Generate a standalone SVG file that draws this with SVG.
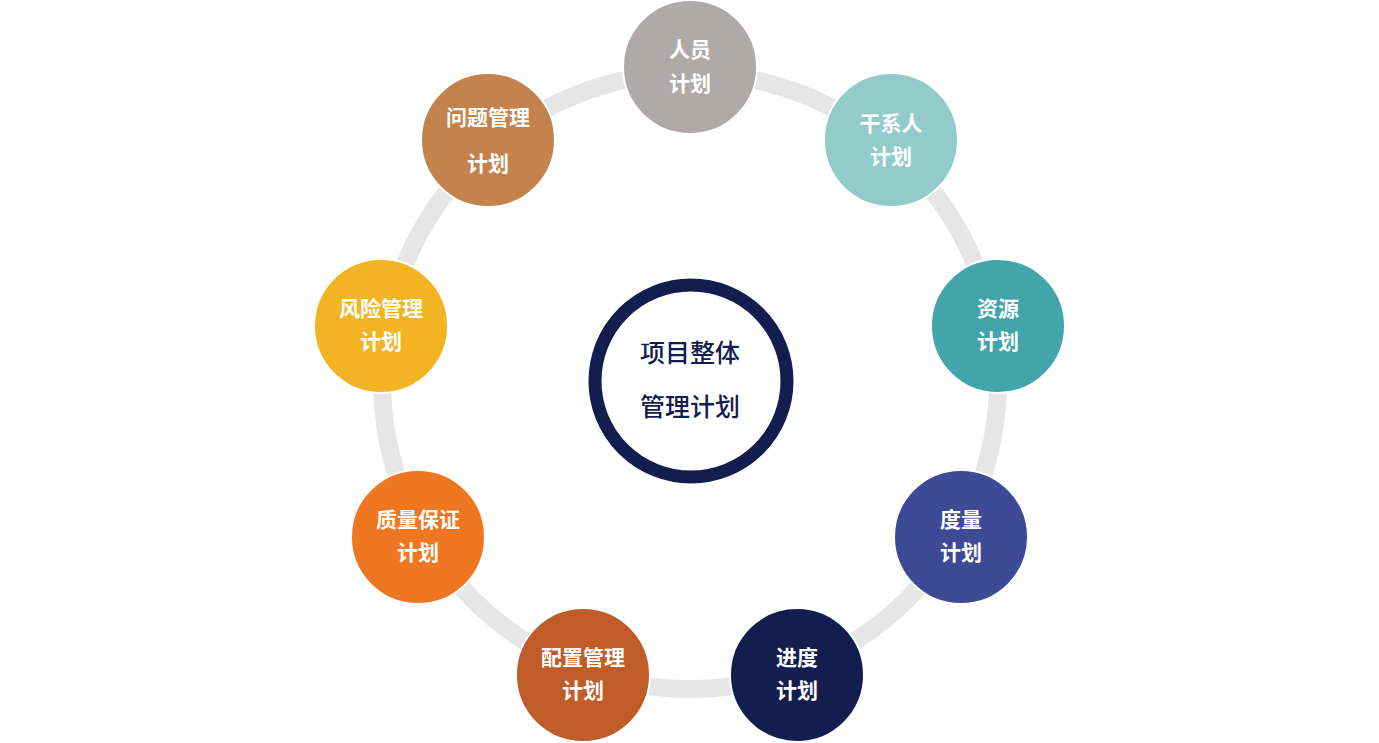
<svg xmlns="http://www.w3.org/2000/svg" width="1379" height="743" viewBox="0 0 1379 743">
<style>
.node circle{stroke:#ffffff;stroke-width:2}
.lbl{font-family:"Noto Sans CJK SC","Noto Sans",sans-serif;font-size:21px;font-weight:bold;fill:#ffffff;text-anchor:middle}
.ctr{font-family:"Noto Sans CJK SC","Noto Sans",sans-serif;font-size:25px;font-weight:500;fill:#141d4f;text-anchor:middle}
</style>
<rect width="1379" height="743" fill="#ffffff"/>
<g id="connectors">
<circle cx="690" cy="381" r="308" fill="none" stroke="#e6e6e6" stroke-width="18"/>
</g>
<g id="center" class="centernode">
<circle cx="691" cy="381" r="96" fill="#ffffff" stroke="#141d4f" stroke-width="13"/>
<text class="ctr" x="690" y="362">项目整体</text>
<text class="ctr" x="690" y="416">管理计划</text>
</g>
<g id="n-renyuan" class="node">
<circle cx="690" cy="67" r="67" fill="#aeaaa9"/>
<text class="lbl" x="690" y="57">人员</text>
<text class="lbl" x="690" y="91">计划</text>
</g>
<g id="n-ganxiren" class="node">
<circle cx="891" cy="140" r="67" fill="#92cbca"/>
<text class="lbl" x="891" y="131">干系人</text>
<text class="lbl" x="891" y="164">计划</text>
</g>
<g id="n-ziyuan" class="node">
<circle cx="998" cy="326" r="67" fill="#42a5ac"/>
<text class="lbl" x="998" y="316">资源</text>
<text class="lbl" x="998" y="349">计划</text>
</g>
<g id="n-duliang" class="node">
<circle cx="961" cy="537" r="67" fill="#3f4a96"/>
<text class="lbl" x="961" y="527">度量</text>
<text class="lbl" x="961" y="560">计划</text>
</g>
<g id="n-jindu" class="node">
<circle cx="797" cy="675" r="67" fill="#141d4f"/>
<text class="lbl" x="797" y="665">进度</text>
<text class="lbl" x="797" y="698">计划</text>
</g>
<g id="n-peizhi" class="node">
<circle cx="583" cy="675" r="67" fill="#c05c2a"/>
<text class="lbl" x="583" y="665">配置管理</text>
<text class="lbl" x="583" y="698">计划</text>
</g>
<g id="n-zhiliang" class="node">
<circle cx="418" cy="537" r="67" fill="#f07722"/>
<text class="lbl" x="418" y="527">质量保证</text>
<text class="lbl" x="418" y="560">计划</text>
</g>
<g id="n-fengxian" class="node">
<circle cx="381" cy="326" r="67" fill="#f2b422"/>
<text class="lbl" x="381" y="316">风险管理</text>
<text class="lbl" x="381" y="349">计划</text>
</g>
<g id="n-wenti" class="node">
<circle cx="488" cy="140" r="67" fill="#c4834d"/>
<text class="lbl" x="488" y="125">问题管理</text>
<text class="lbl" x="488" y="171">计划</text>
</g>
</svg>
